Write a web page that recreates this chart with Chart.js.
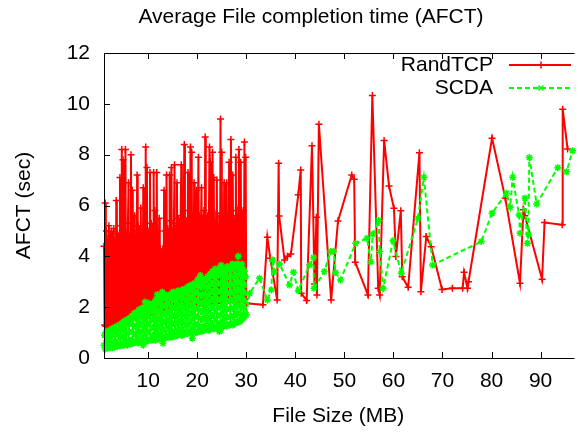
<!DOCTYPE html>
<html>
<head>
<meta charset="utf-8">
<script src="https://cdn.jsdelivr.net/npm/chart.js@4.4.1/dist/chart.umd.min.js"></script>
<style>
html,body{margin:0;padding:0;background:#fff;}
canvas{display:block;}
</style>
</head>
<body>
<canvas id="c" width="578" height="432"></canvas>
<script>
// ---- data ----
const denseSize = [
1,1.125,1.25,1.375,1.5,1.625,1.75,1.875,
2,2.125,2.25,2.375,2.5,2.625,2.75,2.875,
3,3.125,3.25,3.375,3.5,3.625,3.75,3.875,
4,4.125,4.25,4.375,4.5,4.625,4.75,4.875,
5,5.125,5.25,5.375,5.5,5.625,5.75,5.875,
6,6.125,6.25,6.375,6.5,6.625,6.75,6.875,
7,7.125,7.25,7.375,7.5,7.625,7.75,7.875,
8,8.125,8.25,8.375,8.5,8.625,8.75,8.875,
9,9.125,9.25,9.375,9.5,9.625,9.75,9.875,
10,10.125,10.25,10.375,10.5,10.625,10.75,10.875,
11,11.125,11.25,11.375,11.5,11.625,11.75,11.875,
12,12.125,12.25,12.375,12.5,12.625,12.75,12.875,
13,13.125,13.25,13.375,13.5,13.625,13.75,13.875,
14,14.125,14.25,14.375,14.5,14.625,14.75,14.875,
15,15.125,15.25,15.375,15.5,15.625,15.75,15.875,
16,16.125,16.25,16.375,16.5,16.625,16.75,16.875,
17,17.125,17.25,17.375,17.5,17.625,17.75,17.875,
18,18.125,18.25,18.375,18.5,18.625,18.75,18.875,
19,19.125,19.25,19.375,19.5,19.625,19.75,19.875,
20,20.125,20.25,20.375,20.5,20.625,20.75,20.875,
21,21.125,21.25,21.375,21.5,21.625,21.75,21.875,
22,22.125,22.25,22.375,22.5,22.625,22.75,22.875,
23,23.125,23.25,23.375,23.5,23.625,23.75,23.875,
24,24.125,24.25,24.375,24.5,24.625,24.75,24.875,
25,25.125,25.25,25.375,25.5,25.625,25.75,25.875,
26,26.125,26.25,26.375,26.5,26.625,26.75,26.875,
27,27.125,27.25,27.375,27.5,27.625,27.75,27.875,
28,28.125,28.25,28.375,28.5,28.625,28.75,28.875,
29,29.125,29.25,29.375,29.5,29.625,29.75,29.875,
30];

const randDense = [
4.4,1.3,6.1,1.25,5.0,1.3,4.6,1.25,
5.2,1.3,4.8,1.3,5.0,1.35,4.7,1.3,
5.1,1.35,4.6,1.35,6.2,1.4,4.9,1.4,
4.8,1.4,7.1,1.45,5.2,8.2,1.45,7.8,
1.5,5.0,1.45,8.2,1.5,4.9,1.5,5.3,
6.9,1.5,4.8,1.55,8.0,1.55,6.6,1.55,
5.0,1.6,5.6,1.6,4.8,1.6,7.2,1.65,
5.2,1.65,4.7,1.65,5.9,1.7,4.9,1.7,
6.7,1.7,5.1,1.7,8.3,1.75,7.5,1.75,
5.0,1.75,4.8,7.3,1.8,5.3,1.8,4.9,
1.8,7.3,1.8,5.8,1.85,5.2,7.3,1.85,
5.0,1.85,5.5,1.85,4.3,1.9,4.1,1.9,
4.3,1.9,6.6,1.9,5.0,1.9,7.2,1.95,
5.1,1.95,4.9,7.2,1.95,5.4,7.5,1.95,
5.0,2.0,5.3,7.6,2.0,5.1,2.0,6.9,
2.0,5.5,2.0,5.0,2.0,5.6,7.6,2.0,
5.2,2.05,5.8,8.4,2.05,5.0,2.05,5.4,
2.05,7.3,2.1,5.2,2.1,8.3,2.1,8.1,
2.1,5.6,2.1,6.9,2.1,5.3,2.1,6.6,
2.15,5.4,7.9,2.15,5.6,2.15,5.0,6.7,
2.15,5.5,2.15,5.8,2.15,8.7,2.15,5.2,
2.2,5.6,2.2,5.3,8.3,7.7,2.2,5.5,
2.2,8.1,2.2,7.1,2.2,5.4,2.2,5.7,
7.0,2.2,5.2,2.25,5.6,2.25,9.4,2.25,
8.1,2.25,5.5,2.25,6.9,2.25,5.3,2.25,
6.9,2.25,5.6,2.25,7.7,2.3,5.4,8.6,
2.3,5.8,7.2,2.3,5.5,2.3,5.3,7.9,
2.3,5.6,2.3,5.9,8.2,2.3,5.4,7.7,
2.3,5.6,2.3,5.8,2.35,8.5,2.3,7.9,
2.15];

const scdaDense = [
0.5,0.9,0.35,1.0,0.4,0.95,0.38,1.05,
0.45,1.05,0.4,1.1,0.42,1.15,0.4,1.1,
0.5,1.2,0.45,1.15,0.48,1.25,0.45,1.2,
0.5,1.3,0.48,1.25,0.55,1.35,0.5,1.4,
0.5,1.45,0.52,1.4,0.55,1.5,0.5,1.45,
0.6,1.55,0.55,1.5,0.55,1.65,0.58,1.6,
0.6,1.75,0.62,1.7,0.65,1.8,0.6,1.75,
0.6,1.9,0.65,1.85,0.7,1.95,0.62,1.9,
0.5,2.0,0.65,2.2,0.65,1.9,0.68,2.0,
0.7,2.15,0.7,2.05,0.72,2.1,0.7,2.0,
0.75,2.1,0.72,2.2,0.7,2.3,0.75,2.5,
0.8,2.3,0.75,2.4,0.78,2.35,0.75,2.6,
0.58,2.4,0.8,2.5,0.8,2.35,0.82,2.45,
0.85,2.45,0.8,2.4,0.85,2.5,0.82,2.55,
0.9,2.6,0.85,2.5,0.88,2.55,0.9,2.6,
0.9,2.65,0.92,2.55,0.95,2.6,0.9,2.65,
0.9,2.7,0.95,2.6,1.0,2.7,0.95,2.75,
0.95,2.8,1.0,2.7,1.0,2.85,0.98,2.75,
0.78,2.9,1.0,2.85,1.05,2.95,1.0,2.9,
1.0,3.1,1.05,3.0,1.1,3.25,1.05,3.1,
1.05,3.0,1.1,3.1,1.1,3.05,1.12,3.1,
1.15,3.2,1.1,3.15,1.1,3.3,1.15,3.25,
1.2,3.4,1.15,3.3,1.15,3.5,1.2,3.45,
1.2,3.3,1.2,3.4,1.04,3.55,1.1,3.65,
1.25,3.5,1.25,3.4,1.3,3.45,1.28,3.5,
1.25,3.6,1.3,3.5,1.3,3.55,1.32,3.5,
1.35,3.7,1.3,3.6,1.35,3.65,1.38,3.6,
1.4,3.7,1.42,4.0,1.43,3.6,1.45,3.5,
1.5,3.7,1.55,3.5,1.6,3.4,1.65,3.2,
1.7];

const randSizeTail = [33.4,34.3,34.9,36.3,36.6,36.7,37.8,38.4,39.1,40.6,41.1,41.2,42.3,43.4,43.9,44.3,44.4,44.8,47.3,48.7,51.5,52.0,52.2,54.8,55.7,56.9,57.2,58.1,59.1,60.1,60.5,61.5,61.8,63.0,65.3,65.6,66.7,67.7,69.9,72.0,74.1,74.4,75.1,75.3,80.1,82.8,85.8,86.5,86.8,90.3,90.8,94.4,94.5,95.5];
const randTail = [2.1,4.75,3.92,2.28,7.66,5.59,3.86,4.0,4.09,6.42,7.4,2.55,2.26,8.35,2.91,5.54,2.48,9.2,2.28,5.39,7.2,7.03,3.77,2.48,10.33,2.74,2.48,8.56,6.77,5.89,3.99,5.79,3.2,2.78,8.08,2.61,4.78,4.38,2.7,2.74,2.74,3.37,2.74,3.0,8.65,6.29,2.94,5.83,5.6,3.1,5.33,5.24,9.79,8.22];

const scdaSizeTail = [30.7,32.7,34.3,35.1,35.4,35.7,36.8,38.8,39.6,40.6,42.9,43.7,43.8,45.9,47.2,47.8,48.2,49.2,52.3,54.6,55.4,55.8,57.0,57.2,57.9,59.9,61.6,65.0,66.2,68.0,77.9,80.1,83.0,83.8,84.3,85.6,85.8,86.8,87.3,87.5,87.7,89.2,93.5,95.3,96.5];
const scdaTail = [2.55,3.14,2.28,2.68,3.86,3.4,3.7,2.87,3.37,2.65,3.66,3.95,2.74,3.4,4.19,4.19,3.36,3.07,4.51,4.71,3.79,4.88,5.41,4.19,2.74,4.61,3.33,5.5,7.11,3.66,4.58,5.7,6.48,5.93,7.11,5.63,4.91,6.29,4.51,4.87,7.89,6.06,7.49,7.33,8.15];

const xTickValues = [10,20,30,40,50,60,70,80,90];
const yTickValues = [0,2,4,6,8,10,12];
const seriesNames = ['RandTCP','SCDA'];
const chartTitle = 'Average File completion time (AFCT)';
const xTitle = 'File Size (MB)';
const yTitle = 'AFCT (sec)';

// ---- build ----
const toPts = (xs, ys) => xs.map((x, i) => ({x: x, y: ys[i]}));
const randPts = toPts(denseSize.concat(randSizeTail), randDense.concat(randTail));
const scdaPts = toPts(denseSize.concat(scdaSizeTail), scdaDense.concat(scdaTail));

const FONT = '"Liberation Sans", Arial, Helvetica, sans-serif';
const RED = '#ff0000', GREEN = '#00ff00';

function drawPlus(ctx, x, y, r) {
  ctx.beginPath();
  ctx.moveTo(x - r, y); ctx.lineTo(x + r, y);
  ctx.moveTo(x, y - r); ctx.lineTo(x, y + r);
  ctx.stroke();
}
function drawStar(ctx, x, y, r) {
  ctx.beginPath();
  const d = r * 0.7071;
  ctx.moveTo(x - d, y - d); ctx.lineTo(x + d, y + d);
  ctx.moveTo(x - d, y + d); ctx.lineTo(x + d, y - d);
  ctx.moveTo(x - r, y); ctx.lineTo(x + r, y);
  ctx.stroke();
}

const decor = {
  id: 'decor',
  afterDatasetsDraw(chart) {
    const {ctx, chartArea: a, scales} = chart;
    const xs = scales.x, ys = scales.y;
    ctx.save();
    ctx.strokeStyle = '#000';
    ctx.lineWidth = 1;
    ctx.setLineDash([]);
    ctx.beginPath();
    ctx.moveTo(a.right + 2, a.top + 0.5);
    ctx.lineTo(a.left + 0.5, a.top + 0.5);
    ctx.lineTo(a.left + 0.5, a.bottom + 0.5);
    ctx.lineTo(a.right + 2, a.bottom + 0.5);
    ctx.stroke();
    ctx.beginPath();
    xTickValues.forEach(v => {
      const px = Math.round(xs.getPixelForValue(v)) + 0.5;
      ctx.moveTo(px, a.bottom); ctx.lineTo(px, a.bottom - 6);
      ctx.moveTo(px, a.top); ctx.lineTo(px, a.top + 6);
    });
    yTickValues.forEach(v => {
      const py = Math.round(ys.getPixelForValue(v)) + 0.5;
      ctx.moveTo(a.left, py); ctx.lineTo(a.left + 6, py);
    });
    ctx.stroke();

    ctx.fillStyle = '#000';
    ctx.font = '21px ' + FONT;
    ctx.textAlign = 'center';
    ctx.textBaseline = 'middle';
    ctx.fillText(chartTitle, 311, 17);

    ctx.textAlign = 'right';
    ctx.fillText(seriesNames[0], 493, 65.5);
    ctx.fillText(seriesNames[1], 493, 88);
    ctx.lineWidth = 2;
    ctx.strokeStyle = RED;
    ctx.beginPath(); ctx.moveTo(509, 65); ctx.lineTo(571, 65); ctx.stroke();
    ctx.lineWidth = 1.5;
    drawPlus(ctx, 541, 65, 3.5);
    ctx.strokeStyle = GREEN;
    ctx.lineWidth = 2;
    ctx.setLineDash([5, 3]);
    ctx.beginPath(); ctx.moveTo(509, 88); ctx.lineTo(571, 88); ctx.stroke();
    ctx.setLineDash([]);
    ctx.lineWidth = 1.5;
    drawStar(ctx, 541, 88, 3.5);
    ctx.restore();
  }
};

new Chart(document.getElementById('c'), {
  type: 'line',
  data: {
    datasets: [
      {
        label: seriesNames[0],
        data: randPts,
        borderColor: RED,
        backgroundColor: RED,
        borderWidth: 2,
        pointStyle: 'cross',
        pointRadius: 3.5,
        pointBorderWidth: 1.5,
        pointBorderColor: RED,
        fill: false,
        tension: 0,
        clip: false,
        order: 1
      },
      {
        label: seriesNames[1],
        data: scdaPts,
        borderColor: GREEN,
        backgroundColor: GREEN,
        borderWidth: 2,
        borderDash: [5, 3],
        pointStyle: 'star',
        pointRadius: 3.5,
        pointBorderWidth: 1.5,
        pointBorderColor: GREEN,
        fill: false,
        tension: 0,
        clip: false,
        order: 0
      }
    ]
  },
  options: {
    responsive: false,
    devicePixelRatio: 1,
    animation: false,
    events: [],
    layout: { padding: { top: 53, left: 0, right: 0, bottom: 0 } },
    plugins: {
      legend: { display: false },
      title: { display: false },
      tooltip: { enabled: false }
    },
    scales: {
      x: {
        type: 'linear',
        min: 1,
        max: 96.5,
        afterBuildTicks: s => { s.ticks = xTickValues.map(v => ({value: v})); },
        afterFit: s => { s.height = 74; },
        grid: { display: false, drawTicks: false },
        border: { display: false },
        ticks: {
          color: '#000',
          font: { family: FONT, size: 21 },
          padding: 11,
          maxRotation: 0,
          autoSkip: false
        },
        title: {
          display: true,
          text: xTitle,
          color: '#000',
          font: { family: FONT, size: 21 },
          padding: { top: 0, bottom: 3 }
        }
      },
      y: {
        type: 'linear',
        min: 0,
        max: 12,
        afterBuildTicks: s => { s.ticks = yTickValues.map(v => ({value: v})); },
        afterFit: s => { s.width = 104; },
        grid: { display: false, drawTicks: false },
        border: { display: false },
        ticks: {
          color: '#000',
          font: { family: FONT, size: 21 },
          padding: 14,
          autoSkip: false
        },
        title: {
          display: true,
          text: yTitle,
          color: '#000',
          font: { family: FONT, size: 21 },
          padding: { top: 12, bottom: 0 }
        }
      }
    }
  },
  plugins: [decor]
});
</script>
</body>
</html>
